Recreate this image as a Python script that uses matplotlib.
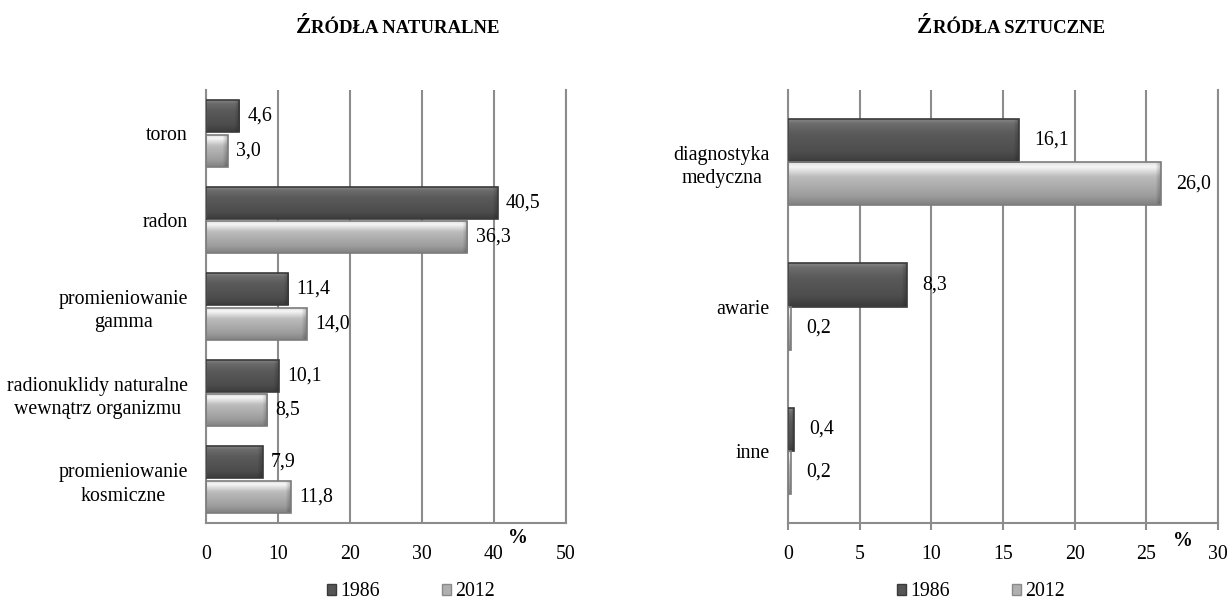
import numpy as np
import matplotlib
matplotlib.use('Agg')
import matplotlib.pyplot as plt
import matplotlib.patches as patches
from matplotlib.colors import LinearSegmentedColormap

plt.rcParams['font.family'] = ['Liberation Serif', 'DejaVu Serif']

# === Dane ===
kat_nat = ['toron', 'radon', 'promieniowanie\ngamma',
           'radionuklidy naturalne\nwewnątrz organizmu',
           'promieniowanie\nkosmiczne']
nat_1986 = [4.6, 40.5, 11.4, 10.1, 7.9]
nat_2012 = [3.0, 36.3, 14.0, 8.5, 11.8]

kat_szt = ['diagnostyka\nmedyczna', 'awarie', 'inne']
szt_1986 = [16.1, 8.3, 0.4]
szt_2012 = [26.0, 0.2, 0.2]

lata = ['1986', '2012']
ticks_nat = [0, 10, 20, 30, 40, 50]
ticks_szt = [0, 5, 10, 15, 20, 25, 30]

GRID = '#8c8c8c'
FS = 14.3
cm_dark = LinearSegmentedColormap.from_list('d', [(0, '#8a8a8a'), (0.12, '#6c6c6c'), (0.35, '#5a5a5a'),
                                                  (0.8, '#4c4c4c'), (1, '#3c3c3c')])
cm_light = LinearSegmentedColormap.from_list('l', [(0, '#dcdcdc'), (0.12, '#f6f6f6'), (0.35, '#bcbcbc'),
                                                   (0.8, '#9c9c9c'), (1, '#828282')])

fig = plt.figure(figsize=(12.32, 6.01), dpi=100)
ax1 = fig.add_axes([206/1232, 1-523/601, 360/1232, 433/601])
ax2 = fig.add_axes([788/1232, 1-523/601, 430/1232, 433/601])


def bevel(ax, bars, cmap, edge):
    # cieniowanie "3D" slupkow
    w_px = ax.get_position().width * fig.get_figwidth() * fig.dpi
    xl = ax.get_xlim()
    pxu = w_px / (xl[1] - xl[0])
    for b in bars:
        x0, y0, w, h = b.get_x(), b.get_y(), b.get_width(), b.get_height()
        ncol = max(2, int(round(w * pxu)))
        rows = np.linspace(0, 1, 40)
        rgb = cmap(rows)[:, :3]
        img = np.repeat(rgb[:, None, :], ncol, axis=1)
        k = min(6, ncol // 2)
        if k > 0:
            fac = np.linspace(1.0, 0.78, k)
            img[:, -k:, :] *= fac[None, :, None]
        im = ax.imshow(img, extent=(x0, x0 + w, y0 + h, y0), origin='upper',
                       aspect='auto', interpolation='bilinear', zorder=2.5)
        im.set_clip_path(b)
        ax.add_patch(patches.Rectangle((x0, y0), w, h, fill=False, edgecolor=edge,
                                       linewidth=1.2, zorder=3))


def panel(ax, kat, v1, v2, ticks, bh, off, lab_off):
    y = np.arange(len(kat))
    b1 = ax.barh(y - off, v1, height=bh, color='#555555', edgecolor='none', zorder=2)
    b2 = ax.barh(y + off, v2, height=bh, color='#aaaaaa', edgecolor='none', zorder=2)
    ax.set_xlim(ticks[0], ticks[-1])
    ax.set_ylim(len(kat) - 0.5, -0.5)
    bevel(ax, b1, cm_dark, '#3a3a3a')
    bevel(ax, b2, cm_light, '#7c7c7c')
    ax.set_xlim(ticks[0], ticks[-1])
    ax.set_ylim(len(kat) - 0.5, -0.5)
    for bars, vals in ((b1, v1), (b2, v2)):
        for b, v in zip(bars, vals):
            ax.annotate(f'{v:.1f}'.replace('.', ','), (b.get_width(), b.get_y() + b.get_height()/2),
                        xytext=(lab_off, 0), textcoords='offset points',
                        va='center', ha='left', fontsize=FS, zorder=4)
    ax.set_yticks(y)
    ax.set_yticklabels(kat, fontsize=FS, multialignment='center', linespacing=1.32)
    ax.set_xticks(ticks)
    ax.set_xticklabels([str(t) for t in ticks], fontsize=FS)
    ax.grid(axis='x', color=GRID, linewidth=1.5)
    ax.set_axisbelow(True)
    ax.spines['top'].set_visible(False)
    for s in ['left', 'bottom', 'right']:
        ax.spines[s].set_color(GRID)
        ax.spines[s].set_linewidth(1.5)
    ax.tick_params(axis='y', length=0, pad=13)
    return b1, b2


panel(ax1, kat_nat, nat_1986, nat_2012, ticks_nat, 0.37, 0.2, 6)
ax1.tick_params(axis='x', length=0, pad=16)
panel(ax2, kat_szt, szt_1986, szt_2012, ticks_szt, 0.3, 0.15, 11)
ax2.tick_params(axis='x', length=5, width=1.5, color=GRID, pad=11)

# znak %
fig.text(518/1232, 1-538/601, '%', fontsize=FS, fontweight='bold', ha='center', va='center')
fig.text(1183/1232, 1-541/601, '%', fontsize=FS, fontweight='bold', ha='center', va='center')

# legendy
from matplotlib.patches import Patch
for ax, cx in ((ax1, 411/1232), (ax2, 981/1232)):
    h = [Patch(facecolor='#555555', edgecolor='#3a3a3a', label=lata[0]),
         Patch(facecolor='#b0b0b0', edgecolor='#8a8a8a', label=lata[1])]
    fig.legend(handles=h, loc='center', bbox_to_anchor=(cx, 1-592/601), ncol=2,
               frameon=False, fontsize=FS, handlelength=0.45, handleheight=0.45,
               handletextpad=0.25, columnspacing=3.1)

# tytuly (kapitaliki)
renderer = fig.canvas.get_renderer()
for first, rest, cx in (('Ź', 'RÓDŁA NATURALNE', 398), ('Ź', 'RÓDŁA SZTUCZNE', 1011)):
    ty = 1 - 33/601
    t1 = fig.text(0, ty, first, fontsize=16.5, fontweight='bold', ha='left', va='baseline')
    t2 = fig.text(0, ty, rest, fontsize=13.5, fontweight='bold', ha='left', va='baseline')
    w1 = t1.get_window_extent(renderer).width
    w2 = t2.get_window_extent(renderer).width
    x0 = cx - (w1 + w2) / 2
    t1.set_x(x0 / 1232)
    t2.set_x((x0 + w1) / 1232)

fig.savefig('out.png', dpi=100)
